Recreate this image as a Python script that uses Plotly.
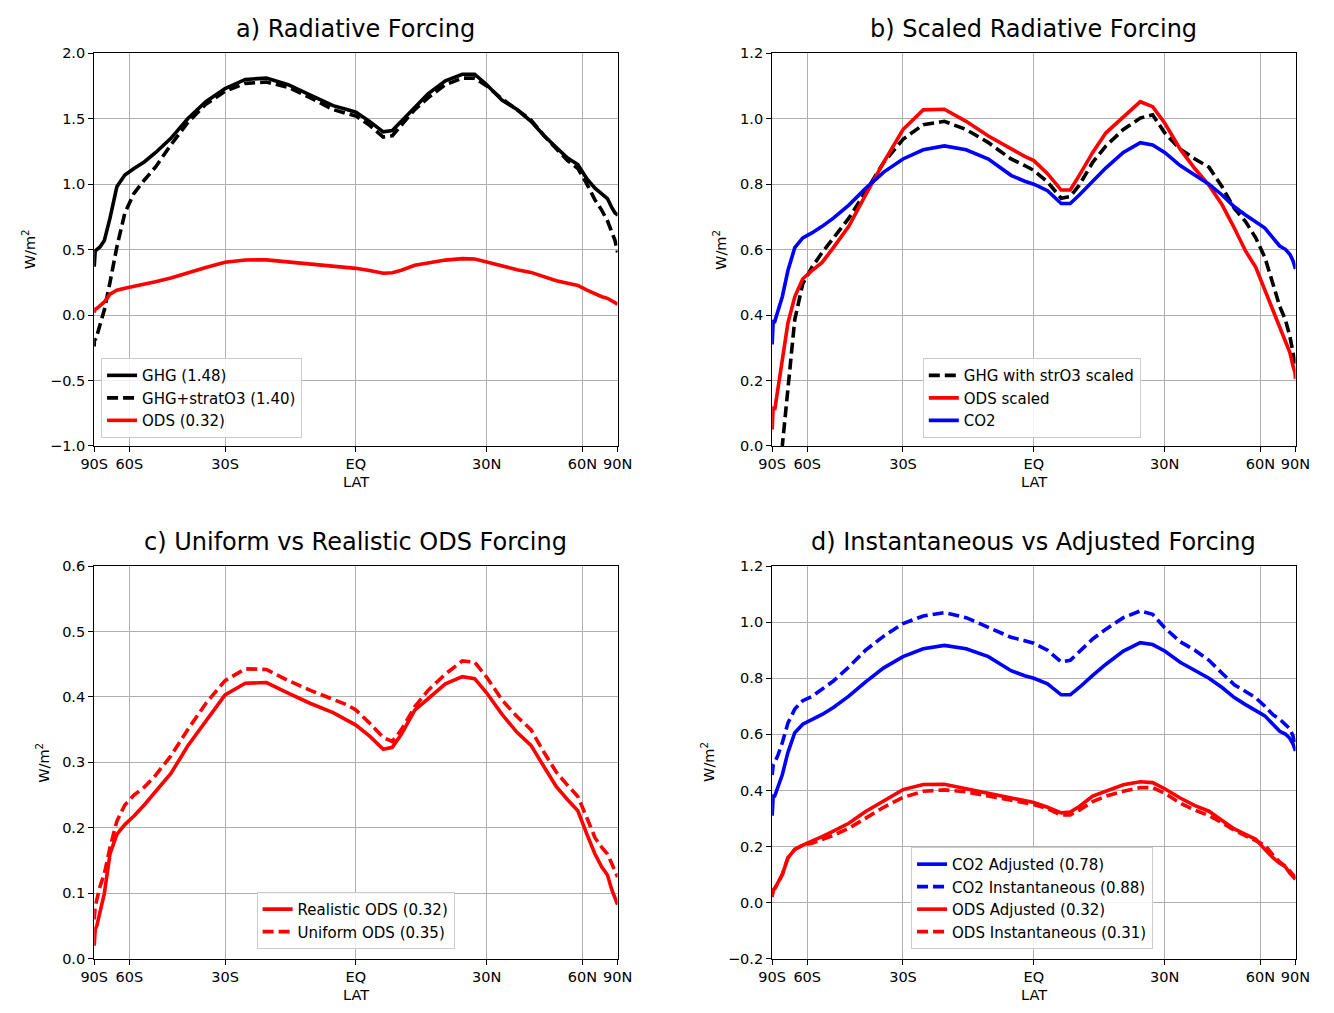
import numpy as np
import plotly.graph_objects as go

# ---------------- data ----------------
LAT = [-90, -88, -85, -82, -78, -74, -70, -66, -62, -58, -54, -50, -45, -40, -35, -30, -25, -20, -15, -10,
       -5, -2, 0, 3, 6, 8, 10, 13, 16, 20, 24, 27, 30, 34, 38, 42, 46, 50, 54, 58,
       62, 66, 70, 74, 78, 82, 86, 90]

GHG = [0.37, 0.48, 0.49, 0.50, 0.52, 0.57, 0.74, 0.98, 1.07, 1.12, 1.17, 1.24, 1.35, 1.50, 1.63, 1.73, 1.80, 1.81, 1.76, 1.68,
       1.60, 1.57, 1.55, 1.48, 1.40, 1.41, 1.48, 1.59, 1.69, 1.79, 1.84, 1.84, 1.76, 1.64, 1.57, 1.48, 1.37, 1.28, 1.20, 1.15,
       1.04, 0.97, 0.93, 0.89, 0.82, 0.78, 0.77, 0.76]

GHG_STRATO3 = [-0.24, -0.18, -0.19, -0.16, -0.08, 0.04, 0.25, 0.52, 0.78, 0.93, 1.03, 1.13, 1.30, 1.47, 1.61, 1.71, 1.77, 1.78, 1.74, 1.66,
               1.57, 1.54, 1.52, 1.45, 1.36, 1.37, 1.45, 1.57, 1.66, 1.76, 1.81, 1.81, 1.75, 1.65, 1.57, 1.49, 1.37, 1.27, 1.18, 1.12,
               1.00, 0.88, 0.80, 0.72, 0.64, 0.57, 0.50, 0.48]

ODS = [0.02, 0.04, 0.045, 0.05, 0.07, 0.10, 0.16, 0.19, 0.205, 0.218, 0.235, 0.255, 0.283, 0.325, 0.363, 0.403, 0.421, 0.422, 0.406, 0.39,
       0.376, 0.364, 0.357, 0.34, 0.32, 0.323, 0.343, 0.38, 0.398, 0.42, 0.431, 0.428, 0.406, 0.373, 0.346, 0.326, 0.293, 0.263, 0.243, 0.226,
       0.19, 0.16, 0.14, 0.128, 0.105, 0.09, 0.085, 0.083]

ODS_UNIFORM = [0.06, 0.07, 0.08, 0.09, 0.11, 0.13, 0.17, 0.21, 0.235, 0.25, 0.262, 0.28, 0.31, 0.35, 0.39, 0.425, 0.443, 0.442, 0.425, 0.41,
               0.396, 0.388, 0.38, 0.36, 0.338, 0.332, 0.35, 0.385, 0.41, 0.435, 0.455, 0.453, 0.43, 0.395, 0.37, 0.35, 0.315, 0.285, 0.265, 0.248,
               0.215, 0.185, 0.17, 0.16, 0.145, 0.135, 0.13, 0.125]

CO2 = [0.31, 0.376, 0.38, 0.38, 0.41, 0.456, 0.536, 0.606, 0.636, 0.651, 0.671, 0.696, 0.736, 0.787, 0.837, 0.877, 0.905, 0.917, 0.905, 0.877,
       0.827, 0.809, 0.80, 0.78, 0.741, 0.741, 0.767, 0.81, 0.85, 0.897, 0.927, 0.92, 0.897, 0.857, 0.827, 0.80, 0.767, 0.731, 0.706, 0.686,
       0.666, 0.636, 0.611, 0.601, 0.586, 0.566, 0.551, 0.541]

ODS_SCALED = [0.05, 0.12, 0.12, 0.11, 0.175, 0.265, 0.376, 0.456, 0.511, 0.536, 0.561, 0.606, 0.671, 0.767, 0.867, 0.967, 1.027, 1.029, 0.992, 0.947,
              0.907, 0.885, 0.872, 0.832, 0.782, 0.782, 0.827, 0.897, 0.957, 1.007, 1.052, 1.037, 0.987, 0.907, 0.847, 0.797, 0.737, 0.666, 0.596, 0.546,
              0.476, 0.416, 0.366, 0.326, 0.286, 0.245, 0.225, 0.205]

GHG_SCALED = [-0.35, -0.28, -0.22, -0.16, -0.08, 0.0, 0.185, 0.386, 0.496, 0.546, 0.591, 0.636, 0.696, 0.777, 0.867, 0.937, 0.982, 0.992, 0.967, 0.927,
              0.877, 0.857, 0.842, 0.807, 0.757, 0.762, 0.797, 0.867, 0.917, 0.967, 1.002, 1.012, 0.957, 0.907, 0.877, 0.852, 0.792, 0.726, 0.686, 0.636,
              0.576, 0.496, 0.426, 0.386, 0.336, 0.286, 0.256, 0.245]

CO2_INST = [0.455, 0.48, 0.49, 0.50, 0.525, 0.57, 0.64, 0.69, 0.72, 0.735, 0.76, 0.79, 0.84, 0.90, 0.95, 0.995, 1.022, 1.034, 1.016, 0.98,
            0.946, 0.934, 0.925, 0.90, 0.858, 0.864, 0.894, 0.94, 0.975, 1.016, 1.04, 1.028, 0.98, 0.93, 0.90, 0.864, 0.818, 0.777, 0.753, 0.73,
            0.70, 0.67, 0.654, 0.636, 0.62, 0.595, 0.573, 0.56]

ODS_INST = [0.03, 0.04, 0.045, 0.05, 0.07, 0.10, 0.16, 0.19, 0.205, 0.212, 0.225, 0.24, 0.265, 0.30, 0.34, 0.375, 0.397, 0.402, 0.395, 0.38,
            0.365, 0.355, 0.35, 0.335, 0.312, 0.313, 0.33, 0.36, 0.38, 0.397, 0.41, 0.41, 0.39, 0.355, 0.33, 0.31, 0.285, 0.258, 0.238, 0.222,
            0.205, 0.17, 0.145, 0.13, 0.115, 0.10, 0.09, 0.085]

XTICK_LATS = [-90, -60, -30, 0, 30, 60, 90]
XTICK_TEXT = ["90S", "60S", "30S", "EQ", "30N", "60N", "90N"]

YTICKS_A = [-1.0, -0.5, 0.0, 0.5, 1.0, 1.5, 2.0]
YTEXT_A = ["\u22121.0", "\u22120.5", "0.0", "0.5", "1.0", "1.5", "2.0"]
YTICKS_B = [0.0, 0.2, 0.4, 0.6, 0.8, 1.0, 1.2]
YTEXT_B = ["0.0", "0.2", "0.4", "0.6", "0.8", "1.0", "1.2"]
YTICKS_C = [0.0, 0.1, 0.2, 0.3, 0.4, 0.5, 0.6]
YTEXT_C = ["0.0", "0.1", "0.2", "0.3", "0.4", "0.5", "0.6"]
YTICKS_D = [-0.2, 0.0, 0.2, 0.4, 0.6, 0.8, 1.0, 1.2]
YTEXT_D = ["\u22120.2", "0.0", "0.2", "0.4", "0.6", "0.8", "1.0", "1.2"]

TITLES = ["a) Radiative Forcing", "b) Scaled Radiative Forcing",
          "c) Uniform vs Realistic ODS Forcing", "d) Instantaneous vs Adjusted Forcing"]

# ---------------- figure ----------------
W, H = 1334, 1013
FONT = "DejaVu Sans"
x = np.sin(np.deg2rad(np.array(LAT, dtype=float)))
xt = np.sin(np.deg2rad(np.array(XTICK_LATS, dtype=float)))

def px(v): return v / W
def py(v): return 1 - v / H

panels = {
    1: dict(xd=[px(82), px(617)], yd=[py(445), py(46)], rng=[-1, 2], tv=YTICKS_A, tt=YTEXT_A),
    2: dict(xd=[px(775), px(1310)], yd=[py(445), py(46)], rng=[0, 1.2], tv=YTICKS_B, tt=YTEXT_B),
    3: dict(xd=[px(82), px(617)], yd=[py(966), py(567)], rng=[0, 0.6], tv=YTICKS_C, tt=YTEXT_C),
    4: dict(xd=[px(775), px(1310)], yd=[py(966), py(567)], rng=[-0.2, 1.2], tv=YTICKS_D, tt=YTEXT_D),
}

fig = go.Figure()
LW = 3.6
DASH = "11px,5px"

def add(i, y, name, color, dash="solid", legend="legend"):
    sfx = "" if i == 1 else str(i)
    fig.add_trace(go.Scatter(x=x, y=y, mode="lines", name=name,
                             line=dict(color=color, width=LW, dash=dash),
                             xaxis="x" + sfx, yaxis="y" + sfx, legend=legend,
                             hoverinfo="skip"))

add(1, GHG, "GHG (1.48)", "black", legend="legend")
add(1, GHG_STRATO3, "GHG+stratO3 (1.40)", "black", DASH, legend="legend")
add(1, ODS, "ODS (0.32)", "red", legend="legend")

add(2, GHG_SCALED, "GHG with strO3 scaled", "black", DASH, legend="legend2")
add(2, ODS_SCALED, "ODS scaled", "red", legend="legend2")
add(2, CO2, "CO2", "blue", legend="legend2")

add(3, ODS, "Realistic ODS (0.32)", "red", legend="legend3")
add(3, ODS_UNIFORM, "Uniform ODS (0.35)", "red", DASH, legend="legend3")

add(4, CO2, "CO2 Adjusted (0.78)", "blue", legend="legend4")
add(4, CO2_INST, "CO2 Instantaneous (0.88)", "blue", DASH, legend="legend4")
add(4, ODS, "ODS Adjusted (0.32)", "red", legend="legend4")
add(4, ODS_INST, "ODS Instantaneous (0.31)", "red", DASH, legend="legend4")

layout = dict(width=W, height=H, margin=dict(l=0, r=0, t=0, b=0),
              paper_bgcolor="white", plot_bgcolor="white",
              font=dict(family=FONT, size=14, color="black"),
              showlegend=True, hovermode=False)

axis_common = dict(showline=True, linecolor="black", linewidth=1.2, mirror=True,
                   ticks="outside", ticklen=5, tickwidth=1.2, tickcolor="black",
                   showgrid=True, gridcolor="#b0b0b0", gridwidth=1, zeroline=False,
                   tickfont=dict(family=FONT, size=14.5, color="black"))

for i, p in panels.items():
    sfx = "" if i == 1 else str(i)
    layout["xaxis" + sfx] = dict(domain=p["xd"], anchor="y" + sfx, range=[-1, 1],
                                 tickmode="array", tickvals=list(xt), ticktext=XTICK_TEXT,
                                 **axis_common)
    layout["yaxis" + sfx] = dict(domain=p["yd"], anchor="x" + sfx, range=p["rng"],
                                 tickmode="array", tickvals=p["tv"], ticktext=p["tt"],
                                 **axis_common)

leg_common = dict(bgcolor="rgba(255,255,255,0.85)", bordercolor="#cccccc", borderwidth=1,
                  font=dict(family=FONT, size=15, color="black"),
                  xanchor="left", yanchor="bottom", tracegroupgap=0)
layout["legend"] = dict(x=px(89), y=py(437), **leg_common)
layout["legend2"] = dict(x=px(929), y=py(437), **leg_common)
layout["legend3"] = dict(x=px(248), y=py(956), **leg_common)
layout["legend4"] = dict(x=px(917), y=py(956), **leg_common)

ann = []
title_pos = [(349.5, 21), (1042.5, 21), (349.5, 543), (1042.5, 543)]
for t, (cx, cy) in zip(TITLES, title_pos):
    ann.append(dict(text=t, x=px(cx), y=py(cy), xref="paper", yref="paper", showarrow=False,
                    xanchor="center", yanchor="middle", font=dict(family=FONT, size=24, color="black")))
for cx, cy in [(349.5, 482), (1042.5, 482), (349.5, 1003), (1042.5, 1003)]:
    ann.append(dict(text="LAT", x=px(cx), y=py(cy), xref="paper", yref="paper", showarrow=False,
                    xanchor="center", yanchor="middle", font=dict(family=FONT, size=14.5, color="black")))
for cx, cy in [(15, 245.5), (721, 245.5), (30, 766.5), (710, 766.5)]:
    ann.append(dict(text="W/m<sup>2</sup>", x=px(cx), y=py(cy), xref="paper", yref="paper", showarrow=False,
                    textangle=-90, xanchor="center", yanchor="middle",
                    font=dict(family=FONT, size=14.5, color="black")))
layout["annotations"] = ann

fig.update_layout(**layout)

fig.write_html("out.html", config={"displayModeBar": False},
               post_script="document.body.style.margin='0';document.body.style.overflow='hidden';")
